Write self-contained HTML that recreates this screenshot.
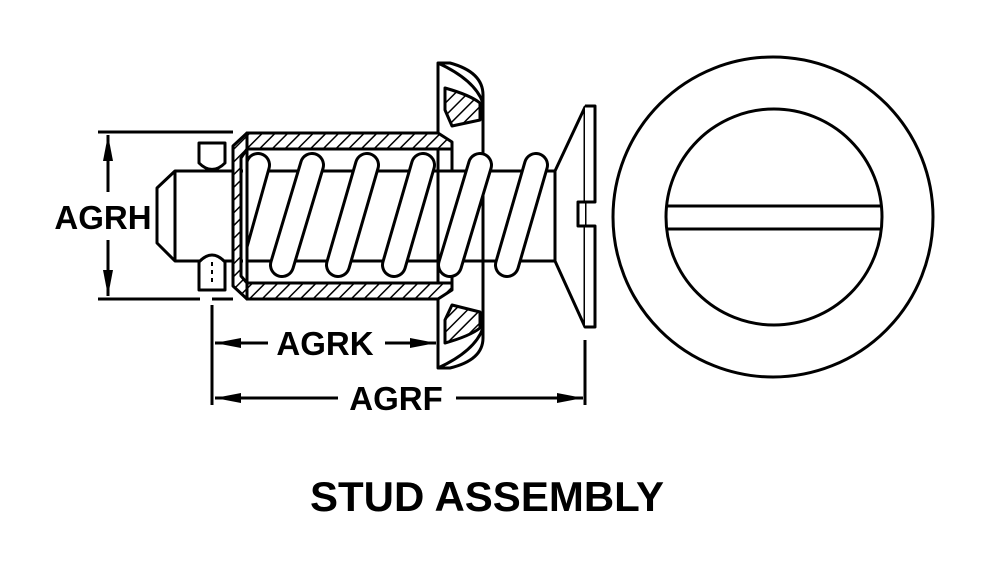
<!DOCTYPE html>
<html><head><style>
html,body{margin:0;padding:0;background:#fff;width:992px;height:578px;overflow:hidden}
text{font-family:"Liberation Sans",sans-serif;font-weight:bold;fill:#000}
</style></head><body>
<svg width="992" height="578" viewBox="0 0 992 578" xmlns="http://www.w3.org/2000/svg">
<defs>
<pattern id="h" patternUnits="userSpaceOnUse" width="9" height="9" patternTransform="rotate(45)">
<rect width="9" height="9" fill="#fff"/><line x1="0" y1="0" x2="0" y2="9" stroke="#000" stroke-width="3"/>
</pattern>
<marker id="a" markerWidth="26" markerHeight="10" refX="26" refY="5" orient="auto" markerUnits="userSpaceOnUse">
<path d="M0,0 L26,5 L0,10 Z" fill="#000"/></marker>
<clipPath id="c"><rect x="247" y="140" width="320" height="150"/></clipPath>
</defs>
<g fill="none" stroke="#000" stroke-width="3" stroke-linejoin="round">
<line x1="98" y1="132" x2="233" y2="132"/>
<line x1="98" y1="299" x2="200" y2="299"/>
<line x1="212" y1="299" x2="233" y2="299"/>
<line x1="108" y1="192" x2="108" y2="135" marker-end="url(#a)"/>
<line x1="108" y1="240" x2="108" y2="296" marker-end="url(#a)"/>
<line x1="212" y1="305" x2="212" y2="405"/>
<line x1="585" y1="340" x2="585" y2="405"/>
<line x1="268" y1="343" x2="215" y2="343" marker-end="url(#a)"/>
<line x1="385" y1="343" x2="436" y2="343" marker-end="url(#a)"/>
<line x1="338" y1="398" x2="215" y2="398" marker-end="url(#a)"/>
<line x1="456" y1="398" x2="583" y2="398" marker-end="url(#a)"/>
<path d="M243,171 L175,171 L157,188 L157,243 L175,261 L243,261" fill="#fff"/>
<line x1="175" y1="171" x2="175" y2="261"/>
<path d="M199,143 L225,143 L225,163 Q212,176 199,163 Z" fill="#fff"/>
<path d="M199,290 L225,290 L225,262 Q212,248 199,262 Z" fill="#fff"/>
<line x1="212" y1="262" x2="212" y2="285" stroke-dasharray="4,4" stroke-width="2"/>
<path d="M438,63 L450,63 Q483,72 483,95 L483,338 Q483,360 450,368 L438,368 Z" fill="#fff"/>
<path d="M445,88 Q470,95 480,103 L480,120 L452,126 L445,110 Z" fill="url(#h)"/>
<path d="M445,343 Q470,336 480,328 L480,312 L452,305 L445,320 Z" fill="url(#h)"/>
<path d="M438,63 Q475,80 483,103"/>
<path d="M438,368 Q475,351 483,328"/>
<path d="M247,133 L438,133 L452,142 L452,149 L247,149 Z" fill="url(#h)"/>
<path d="M247,299 L438,299 L452,290 L452,283 L247,283 Z" fill="url(#h)"/>
<path d="M247,133 L233,146 L233,286 L247,299 L247,283 L241,276 L241,158 L247,149 Z" fill="url(#h)"/>
<line x1="452" y1="149" x2="452" y2="171"/><line x1="452" y1="261" x2="452" y2="283"/>
<line x1="247" y1="171" x2="555" y2="171"/>
<line x1="247" y1="261" x2="555" y2="261"/>
</g>
<g stroke-linecap="round" clip-path="url(#c)">
<g stroke="#000" stroke-width="26">
<line x1="258" y1="165" x2="230" y2="265"/>
<line x1="312" y1="165" x2="282" y2="265"/>
<line x1="367" y1="165" x2="338" y2="265"/>
<line x1="423" y1="165" x2="394" y2="265"/>
<line x1="480" y1="165" x2="450" y2="265"/>
<line x1="536" y1="165" x2="507" y2="265"/>
</g>
<g stroke="#fff" stroke-width="20">
<line x1="258" y1="165" x2="230" y2="265"/>
<line x1="312" y1="165" x2="282" y2="265"/>
<line x1="367" y1="165" x2="338" y2="265"/>
<line x1="423" y1="165" x2="394" y2="265"/>
<line x1="480" y1="165" x2="450" y2="265"/>
<line x1="536" y1="165" x2="507" y2="265"/>
</g>
</g>
<g fill="none" stroke="#000" stroke-width="3" stroke-linejoin="round">
<line x1="247" y1="150" x2="247" y2="283"/>
<path d="M555,171 L585,107 L585,327 L555,261 Z" fill="#fff"/>
<path d="M585,106 L595,106 L595,202 L578,202 L578,226 L595,226 L595,327 L585,327" fill="#fff"/>
<line x1="555" y1="171" x2="555" y2="261"/>
<circle cx="773" cy="217" r="160"/>
<circle cx="774" cy="217" r="108"/>
<line x1="666" y1="206" x2="882" y2="206"/>
<line x1="666" y1="229" x2="882" y2="229"/>
</g>
<text x="103" y="229" font-size="33" text-anchor="middle">AGRH</text>
<text x="325" y="355" font-size="33" text-anchor="middle">AGRK</text>
<text x="396" y="410" font-size="33" text-anchor="middle">AGRF</text>
<text x="487" y="511" font-size="42" text-anchor="middle">STUD ASSEMBLY</text>
</svg>
</body></html>
